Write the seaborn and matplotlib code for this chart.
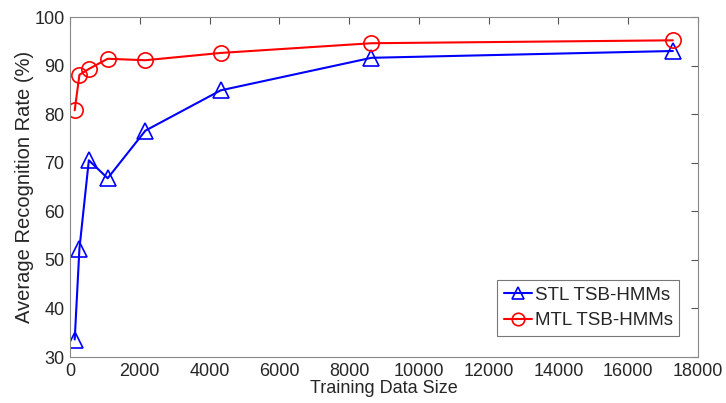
import matplotlib
matplotlib.use("Agg")
import matplotlib.pyplot as plt
import seaborn as sns
import pandas as pd

train_sizes = [135, 270, 540, 1080, 2160, 4320, 8640, 17280]
stl_rates = [33.6, 52.3, 70.5, 66.8, 76.6, 84.9, 91.6, 93.0]
mtl_rates = [80.8, 88.1, 89.3, 91.4, 91.1, 92.6, 94.6, 95.2]
series_names = ["STL TSB-HMMs", "MTL TSB-HMMs"]

df = pd.DataFrame({
    "size": train_sizes * 2,
    "rate": stl_rates + mtl_rates,
    "model": [series_names[0]] * len(train_sizes) + [series_names[1]] * len(train_sizes),
})

sns.set_style("white")
plt.rcParams["font.family"] = ["Liberation Sans", "DejaVu Sans"]

fig = plt.figure(figsize=(7.26, 4.03), dpi=100)
ax = fig.add_axes([70 / 726, 1 - 357 / 403, (698 - 70) / 726, (357 - 17) / 403])

colors = ["#0000ff", "#ff0000"]
sns.lineplot(
    data=df, x="size", y="rate", hue="model", style="model",
    palette=dict(zip(series_names, colors)),
    markers={series_names[0]: "^", series_names[1]: "o"},
    dashes=False, markersize=11, markerfacecolor="none",
    markeredgewidth=1.2, linewidth=1.5, ax=ax,
)
for line, c in zip(ax.lines, colors):
    line.set_markeredgecolor(c)
    line.set_markerfacecolor("none")

ax.set_xlim(0, 18000)
ax.set_ylim(30, 100)
ax.set_xticks(range(0, 18001, 2000))
ax.set_yticks(range(30, 101, 10))
ax.set_xlabel("Training Data Size", fontsize=13, labelpad=0)
ax.set_ylabel("Average Recognition Rate (%)", fontsize=14.5, labelpad=0)
ax.tick_params(direction="in", length=5, width=0.8, color="#555555",
               labelsize=13, top=True, right=True, pad=4)
for s in ax.spines.values():
    s.set_color("#888888")
    s.set_linewidth(0.8)

handles, labels = ax.get_legend_handles_labels()
for h, c in zip(handles, colors):
    h.set_markerfacecolor("none")
    h.set_markeredgecolor(c)
    h.set_markersize(9)
leg = ax.legend(handles, labels, loc="lower right", bbox_to_anchor=(0.970, 0.062),
                borderaxespad=0, fontsize=13.5, frameon=True, fancybox=False,
                edgecolor="#555555", handlelength=1.5, handletextpad=0.15,
                borderpad=0.35, labelspacing=0.45)
leg.get_frame().set_linewidth(0.8)

fig.savefig("out.png", dpi=100)
